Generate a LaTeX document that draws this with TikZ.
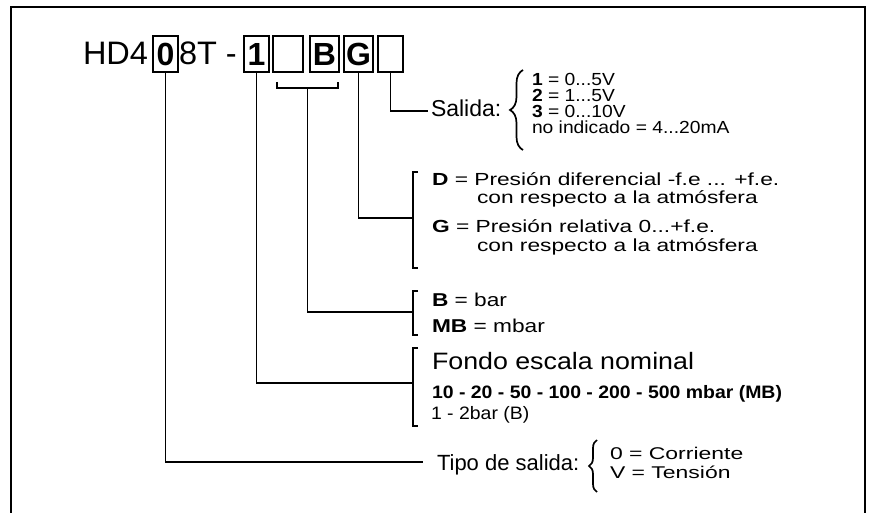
\documentclass[tikz,border=0pt]{standalone}
\usepackage{fontspec}
\setmainfont{Liberation Sans}
\usepackage{graphicx}
\usetikzlibrary{decorations.pathreplacing}
\newcommand{\stx}[3]{\scalebox{#1}[1]{\fontsize{#2}{#2}\selectfont #3}}
\begin{document}
\begin{tikzpicture}[x=1pt,y=-1pt,
  txt/.style={inner sep=0pt, outer sep=0pt, anchor=base west},
  cbox/.style={draw, line width=1.3pt, minimum width=25pt, minimum height=36pt, inner sep=0pt, outer sep=0pt, font=\fontsize{32}{32}\selectfont\bfseries},
  conn/.style={line width=1.3pt},
  brk/.style={line width=1.3pt},
  brc/.style={line width=1.7pt, decorate, decoration={brace, amplitude=#1}}]
\useasboundingbox (0,0) rectangle (871,513);
\draw[line width=2.5pt] (11,513) -- (11,7) -- (865,7) -- (865,513);

% header code
\node[txt, font=\fontsize{32.5}{32.5}\selectfont] (hd) at (83,65) {HD4};
\node[cbox] (b0) at (165.5,54) {0};
\node[txt, font=\fontsize{32.5}{32.5}\selectfont] (t8) at (179,65) {8T -};
\node[cbox] (b1) at (256.5,54) {1};
\node[cbox, minimum width=30pt] (bx) at (288,54) {};
\node[cbox, minimum width=29pt] (bB) at (324.5,54) {B};
\node[cbox, minimum width=29pt] (bG) at (358.5,54) {G};
\node[cbox] (bS) at (390.5,54) {};

% bracket under empty box and B
\draw[conn] (277,82) -- (277,88) -- (338,88) -- (338,82);
\coordinate (bmid) at (307.5,88);

% connector end points
\coordinate (sIn) at (428,111);
\coordinate (gIn) at (413,218);
\coordinate (bIn) at (413,312);
\coordinate (fIn) at (413,383);
\coordinate (tIn) at (423,462);

\draw[conn] (bS.south) |- (sIn);
\draw[conn] (bG.south) |- (gIn);
\draw[conn] (bmid) |- (bIn);
\draw[conn] (b1.south) |- (fIn);
\draw[conn] (b0.south) |- (tIn);

% Salida
\node[txt] (sal) at (431,117) {\stx{1}{23}{Salida:}};
\draw[brc=13pt] (523,150) -- (523,70);
\node[txt] (s1) at (532,86) {\stx{1.1}{17.5}{\textbf{1} = 0...5V}};
\node[txt] (s2) at (532,102) {\stx{1.1}{17.5}{\textbf{2} = 1...5V}};
\node[txt] (s3) at (532,118) {\stx{1.1}{17.5}{\textbf{3} = 0...10V}};
\node[txt] (s4) at (532,134) {\stx{1.1}{17.5}{no indicado = 4...20mA}};

% D / G
\draw[brk] (418,172) -- (413,172) -- (413,268) -- (418,268);
\node[txt] (d1) at (432,186) {\stx{1.3}{17.5}{\textbf{D} = Presión diferencial -f.e ... +f.e.}};
\node[txt] (d2) at (477,204) {\stx{1.3}{17.5}{con respecto a la atmósfera}};
\node[txt] (g1) at (432,233) {\stx{1.3}{17.5}{\textbf{G} = Presión relativa 0...+f.e.}};
\node[txt] (g2) at (477,252) {\stx{1.3}{17.5}{con respecto a la atmósfera}};

% B / MB
\draw[brk] (418,291) -- (413,291) -- (413,335) -- (418,335);
\node[txt] (u1) at (432,307) {\stx{1.22}{18.6}{\textbf{B} = bar}};
\node[txt] (u2) at (432,333) {\stx{1.22}{18.6}{\textbf{MB} = mbar}};

% Fondo escala
\draw[brk] (418,348) -- (413,348) -- (413,426) -- (418,426);
\node[txt] (f1) at (432,370) {\stx{1.13}{23.7}{Fondo escala nominal}};
\node[txt] (f2) at (432,398) {\stx{1.08}{18}{\bfseries 10 - 20 - 50 - 100 - 200 - 500 mbar (MB)}};
\node[txt] (f3) at (431,419) {\stx{1.08}{18}{1 - 2bar (B)}};

% Tipo de salida
\node[txt] (tp) at (437,470) {\stx{1}{22}{Tipo de salida:}};
\draw[brc=8pt] (597,492) -- (597,440);
\node[txt] (c1) at (610,459) {\stx{1.35}{17}{0 = Corriente}};
\node[txt] (c2) at (610,478) {\stx{1.35}{17}{V = Tensión}};
\end{tikzpicture}
\end{document}
